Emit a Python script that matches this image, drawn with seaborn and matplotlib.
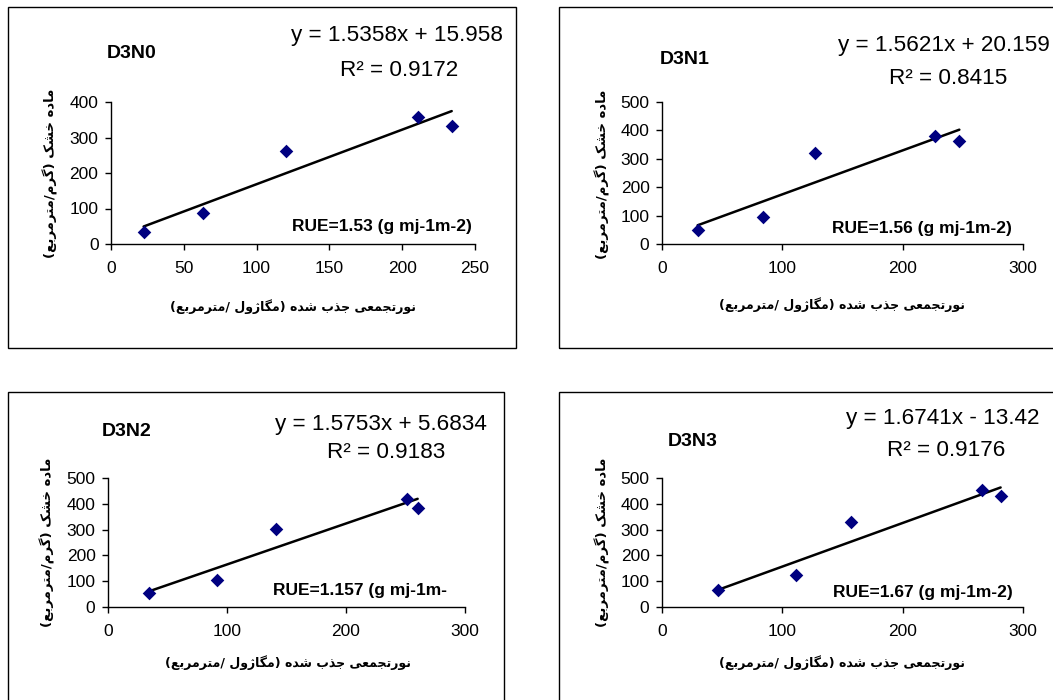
import matplotlib
matplotlib.use("Agg")
import matplotlib.pyplot as plt
import matplotlib.patches as mpatches
import numpy as np
import pandas as pd
import seaborn as sns

# ---- data ----
titles = ['D3N0', 'D3N1', 'D3N2', 'D3N3']
equations = ['y = 1.5358x + 15.958', 'y = 1.5621x + 20.159',
             'y = 1.5753x + 5.6834', 'y = 1.6741x - 13.42']
r2_labels = ['R² = 0.9172', 'R² = 0.8415', 'R² = 0.9183', 'R² = 0.9176']
rue_labels = ['RUE=1.53 (g mj-1m-2)', 'RUE=1.56 (g mj-1m-2)',
              'RUE=1.157 (g mj-1m-', 'RUE=1.67 (g mj-1m-2)']

par_d3n0 = [22.4, 62.9, 120.3, 211.1, 234.0]
dm_d3n0 = [33, 87, 263, 358, 333]
par_d3n1 = [29.6, 83.7, 127.4, 226.6, 247.1]
dm_d3n1 = [49, 95, 321, 379, 362]
par_d3n2 = [34.2, 91.7, 141.0, 251.0, 260.2]
dm_d3n2 = [56, 105, 303, 420, 382]
par_d3n3 = [46.5, 111.6, 157.3, 266.2, 281.4]
dm_d3n3 = [64, 123, 329, 452, 429]

x_max = [250, 300, 300, 300]
x_step = [50, 100, 100, 100]
y_max = [400, 500, 500, 500]

ylabel_fa = 'ماده خشک (گرم/مترمربع)'
xlabel_fa = 'نورتجمعی جذب شده (مگاژول /مترمربع)'

# ---- simple Persian shaping (matplotlib has no bidi / joining) ----
FORMS = {
    'ا': (0xFE8D, 0xFE8E, None, None),
    'ب': (0xFE8F, 0xFE90, 0xFE91, 0xFE92),
    'ت': (0xFE95, 0xFE96, 0xFE97, 0xFE98),
    'ج': (0xFE9D, 0xFE9E, 0xFE9F, 0xFEA0),
    'خ': (0xFEA5, 0xFEA6, 0xFEA7, 0xFEA8),
    'د': (0xFEA9, 0xFEAA, None, None),
    'ذ': (0xFEAB, 0xFEAC, None, None),
    'ر': (0xFEAD, 0xFEAE, None, None),
    'ژ': (0xFB8A, 0xFB8B, None, None),
    'ش': (0xFEB5, 0xFEB6, 0xFEB7, 0xFEB8),
    'ع': (0xFEC9, 0xFECA, 0xFECB, 0xFECC),
    'ل': (0xFEDD, 0xFEDE, 0xFEDF, 0xFEE0),
    'م': (0xFEE1, 0xFEE2, 0xFEE3, 0xFEE4),
    'ن': (0xFEE5, 0xFEE6, 0xFEE7, 0xFEE8),
    'ه': (0xFEE9, 0xFEEA, 0xFEEB, 0xFEEC),
    'و': (0xFEED, 0xFEEE, None, None),
    'ی': (0xFBFC, 0xFBFD, 0xFBFE, 0xFBFF),
    'ک': (0xFB8E, 0xFB8F, 0xFB90, 0xFB91),
    'گ': (0xFB92, 0xFB93, 0xFB94, 0xFB95),
}
MIRROR = {'(': ')', ')': '('}


def shape_rtl(text):
    out = []
    for i, ch in enumerate(text):
        f = FORMS.get(ch)
        if f is None:
            out.append(MIRROR.get(ch, ch))
            continue
        prev = FORMS.get(text[i - 1]) if i > 0 else None
        nxt = FORMS.get(text[i + 1]) if i < len(text) - 1 else None
        jp = prev is not None and prev[2] is not None
        jn = f[2] is not None and nxt is not None
        if jp and jn:
            code = f[3]
        elif jp:
            code = f[1]
        elif jn:
            code = f[2]
        else:
            code = f[0]
        out.append(chr(code))
    return ''.join(reversed(out))


sns.set_style('ticks')
plt.rcParams['font.family'] = ['Liberation Sans', 'DejaVu Sans']
plt.rcParams['text.color'] = 'black'
plt.rcParams['xtick.color'] = 'black'
plt.rcParams['ytick.color'] = 'black'
plt.rcParams['axes.edgecolor'] = 'black'

W, H = 1053, 700
fig = plt.figure(figsize=(W / 100, H / 100), dpi=100)


def fx(x):
    return x / W


def fy(y):
    return 1 - y / H


# layout in pixels of the reference
frames = [(8, 7, 516, 348), (559, 7, 1060, 348), (8, 392, 504, 710), (559, 392, 1060, 710)]
axes_px = [(111, 102, 475, 244), (662, 102, 1023, 244), (108, 478, 465, 607), (662, 478, 1023, 607)]
title_px = [(107, 54), (660, 59), (102, 432), (668, 442)]
eq_px = [(503, 36), (1050, 45), (487, 425), (1040, 418)]
r2_px = [(458, 71), (1007, 78), (445, 453), (1005, 450)]
rue_px = [(472, 226), (1012, 229), (447, 590), (1013, 592)]
ylab_px = [(50, 173), (602, 174), (47, 542), (602, 542)]
xlab_px = [(293, 307), (842, 305), (288, 663), (842, 663)]

series = [(par_d3n0, dm_d3n0), (par_d3n1, dm_d3n1), (par_d3n2, dm_d3n2), (par_d3n3, dm_d3n3)]

for i in range(4):
    x0, y0, x1, y1 = frames[i]
    fig.patches.append(mpatches.Rectangle((fx(x0), fy(y1)), fx(x1 - x0), (y1 - y0) / H,
                                          transform=fig.transFigure, fill=False,
                                          edgecolor='black', linewidth=1.0))
    l, t, r, b = axes_px[i]
    ax = fig.add_axes([fx(l), fy(b), fx(r - l), (b - t) / H])
    df = pd.DataFrame({'par': series[i][0], 'dm': series[i][1]})
    sns.regplot(data=df, x='par', y='dm', ax=ax, ci=None, marker='D',
                scatter_kws={'s': 48, 'color': '#000080', 'alpha': 1,
                             'linewidths': 0, 'zorder': 3},
                line_kws={'color': 'black', 'lw': 1.8, 'zorder': 2})
    ax.set_xlim(0, x_max[i])
    ax.set_ylim(0, y_max[i])
    ax.set_xticks(np.arange(0, x_max[i] + 1, x_step[i]))
    ax.set_yticks(np.arange(0, y_max[i] + 1, 100))
    ax.set_xlabel('')
    ax.set_ylabel('')
    sns.despine(ax=ax)
    for s in ['left', 'bottom']:
        ax.spines[s].set_linewidth(1.0)
        ax.spines[s].set_color('black')
    ax.tick_params(axis='both', labelsize=12.5, length=4, width=1.0, colors='black')
    ax.tick_params(axis='x', pad=8)
    ax.tick_params(axis='y', pad=5)
    ax.patch.set_alpha(0)

    fig.text(fx(title_px[i][0]), fy(title_px[i][1]), titles[i], fontsize=14,
             fontweight='bold', ha='left', va='center')
    fig.text(fx(eq_px[i][0]), fy(eq_px[i][1]), equations[i], fontsize=16.2,
             ha='right', va='center')
    fig.text(fx(r2_px[i][0]), fy(r2_px[i][1]), r2_labels[i], fontsize=16.2,
             ha='right', va='center')
    fig.text(fx(rue_px[i][0]), fy(rue_px[i][1]), rue_labels[i], fontsize=12.5,
             fontweight='bold', ha='right', va='center')
    fig.text(fx(ylab_px[i][0]), fy(ylab_px[i][1]), shape_rtl(ylabel_fa), fontsize=9.5,
             fontweight='bold', family=['DejaVu Sans'], rotation=90, ha='center', va='center')
    fig.text(fx(xlab_px[i][0]), fy(xlab_px[i][1]), shape_rtl(xlabel_fa), fontsize=9,
             fontweight='bold', family=['DejaVu Sans'], ha='center', va='center')

fig.savefig('out.png', dpi=100)
